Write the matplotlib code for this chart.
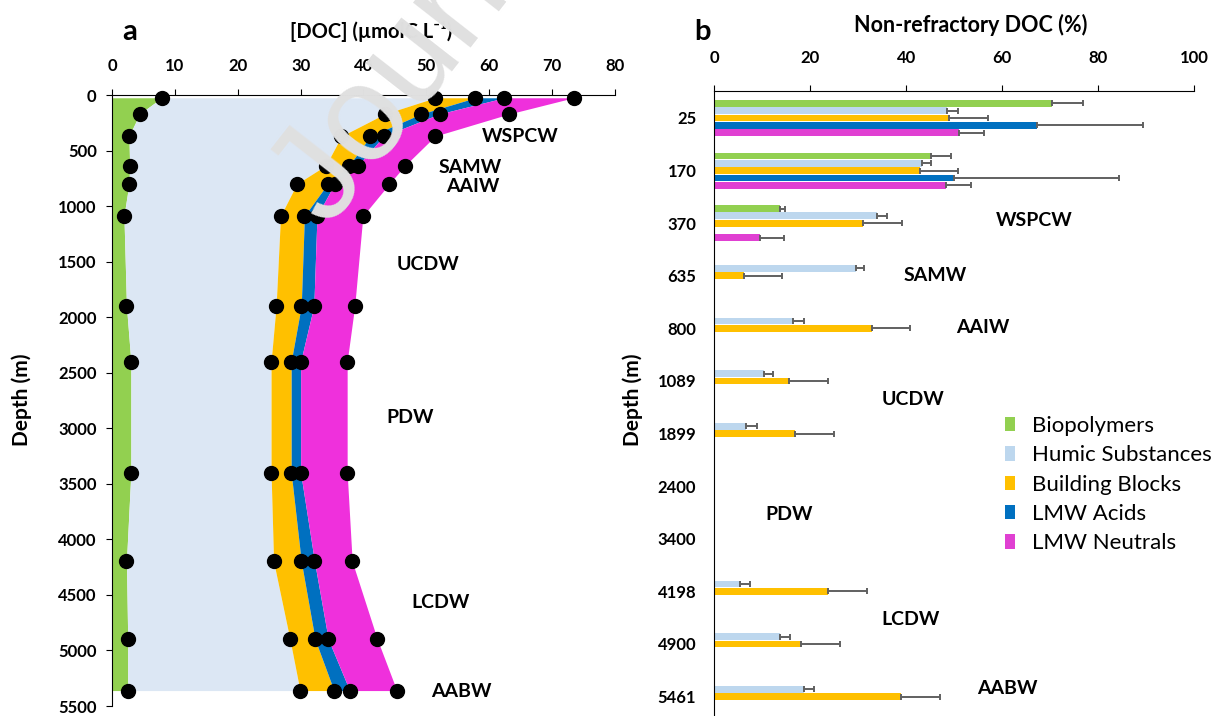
import numpy as np
import matplotlib
matplotlib.use("Agg")
import matplotlib.pyplot as plt
from matplotlib.patches import Patch

plt.rcParams['font.family'] = ['Lato', 'DejaVu Sans']

# ---- panel a data: DOC fractions (umolC/L) vs depth ----
depth_a = [25, 170, 370, 635, 800, 1089, 1899, 2400, 3400, 4198, 4900, 5361]
bio_a = [7.9, 4.4, 2.7, 2.8, 2.7, 1.9, 2.3, 3.0, 3.0, 2.3, 2.5, 2.5]
hs_a = [43.5, 39.0, 33.8, 31.2, 26.7, 24.9, 23.8, 22.3, 22.3, 23.4, 25.8, 27.4]
bb_a = [6.4, 5.8, 4.6, 3.7, 4.9, 3.8, 4.0, 3.2, 3.2, 4.4, 4.0, 5.4]
acid_a = [4.6, 2.9, 2.1, 1.4, 1.1, 2.0, 2.0, 1.5, 1.5, 2.1, 2.1, 2.5]
neu_a = [11.0, 11.1, 8.2, 7.5, 8.7, 7.3, 6.5, 7.4, 7.4, 6.0, 7.8, 7.5]

# ---- panel b data: non-refractory DOC (%) ----
depth_b = ['25', '170', '370', '635', '800', '1089', '1899', '2400', '3400', '4198', '4900', '5461']
nan = np.nan
bio_b = [70.5, 45.2, 13.6, nan, nan, nan, nan, nan, nan, nan, nan, nan]
bio_err = [6.4, 4.2, 1.2, nan, nan, nan, nan, nan, nan, nan, nan, nan]
hs_b = [48.6, 43.2, 33.9, 29.5, 16.5, 10.4, 6.7, nan, nan, 5.4, 13.8, 18.8]
hs_err = [2.1, 2.0, 2.1, 1.8, 2.1, 1.9, 2.1, nan, nan, 2.0, 2.0, 2.0]
bb_b = [49.0, 42.8, 30.9, 6.2, 32.8, 15.6, 16.8, nan, nan, 23.6, 18.0, 39.0]
bb_err = [8.0, 8.1, 8.2, 7.9, 8.1, 8.0, 8.1, nan, nan, 8.2, 8.2, 8.1]
acid_b = [67.3, 50.0, nan, nan, nan, nan, nan, nan, nan, nan, nan, nan]
acid_err = [22.1, 34.3, nan, nan, nan, nan, nan, nan, nan, nan, nan, nan]
neu_b = [51.1, 48.3, 9.5, nan, nan, nan, nan, nan, nan, nan, nan, nan]
neu_err = [5.1, 5.2, 5.0, nan, nan, nan, nan, nan, nan, nan, nan, nan]

names = ['Biopolymers', 'Humic Substances', 'Building Blocks', 'LMW Acids', 'LMW Neutrals']
fill_cols = ['#92D050', '#DCE7F4', '#FFC000', '#0070C0', '#EF30DC']
bar_cols = ['#92D050', '#BDD7EE', '#FFC000', '#0070C0', '#E040D2']

# water mass labels
masses = ['WSPCW', 'SAMW', 'AAIW', 'UCDW', 'PDW', 'LCDW', 'AABW']
mass_pos_a = [(65.0, 370), (57.0, 655), (57.4, 825), (50.2, 1530), (47.4, 2905), (52.2, 4565), (55.6, 5365)]
mass_pos_b = [(66.6, 1.94), (46.0, 3.0), (56.0, 3.99), (41.4, 5.36), (15.5, 7.53), (41.0, 9.54), (61.0, 10.84)]

W, H = 1211, 716
fig = plt.figure(figsize=(W / 100, H / 100), dpi=100)

# ---------------- panel a ----------------
ax1 = fig.add_axes([112 / W, 1 - 706 / H, (615 - 112) / W, (706 - 95) / H])
comps = np.array([bio_a, hs_a, bb_a, acid_a, neu_a])
cum = np.vstack([np.zeros(len(depth_a)), np.cumsum(comps, axis=0)])
for k in range(5):
    ax1.fill_betweenx(depth_a, cum[k], cum[k + 1], color=fill_cols[k], lw=0)
for k in range(1, 6):
    ax1.plot(cum[k], depth_a, 'o', color='black', ms=10, clip_on=False, zorder=5)

ax1.set_xlim(0, 80)
ax1.set_ylim(5500, 0)
ax1.set_xticks(range(0, 81, 10))
ax1.set_yticks(range(0, 5501, 500))
ax1.xaxis.tick_top()
ax1.spines['right'].set_visible(False)
ax1.spines['bottom'].set_visible(False)
ax1.tick_params(axis='x', length=4, pad=11, labelsize=12)
ax1.tick_params(axis='y', length=4, pad=7, labelsize=12)
for lb in ax1.get_xticklabels() + ax1.get_yticklabels():
    lb.set_fontweight('bold')
for m, (x, y) in zip(masses, mass_pos_a):
    ax1.text(x, y, m, ha='center', va='center', fontsize=14, fontweight='bold')

fig.text(22 / W, 1 - 400 / H, 'Depth (m)', rotation=90, ha='center', va='center',
         fontsize=15, fontweight='bold')
fig.text(371 / W, 1 - 32 / H, '[DOC] (µmolC L⁻¹)', ha='center', va='center',
         fontsize=14.5, fontweight='bold')
fig.text(130 / W, 1 - 32 / H, 'a', ha='center', va='center', fontsize=21, fontweight='bold')

# ---------------- panel b ----------------
ax2 = fig.add_axes([714.3 / W, 0, (1194 - 714.3) / W, 1 - 91 / H])
vals = [bio_b, hs_b, bb_b, acid_b, neu_b]
errs = [bio_err, hs_err, bb_err, acid_err, neu_err]
yy = np.arange(len(depth_b))
step = 0.139
for j in range(5):
    v = np.array(vals[j])
    e = np.array(errs[j])
    ok = ~np.isnan(v)
    ax2.barh(yy[ok] + (j - 2) * step, v[ok], height=0.128, color=bar_cols[j],
             xerr=[np.zeros(ok.sum()), e[ok]],
             error_kw=dict(ecolor='#606060', elinewidth=1.4, capsize=2.5, capthick=1.4))

ax2.set_xlim(0, 100)
ax2.set_ylim(11.37, -0.513)
ax2.set_xticks(range(0, 101, 20))
ax2.set_yticks(yy)
ax2.set_yticklabels(depth_b)
ax2.xaxis.tick_top()
ax2.spines['right'].set_visible(False)
ax2.spines['bottom'].set_visible(False)
ax2.tick_params(axis='x', length=4, pad=14, labelsize=12)
ax2.tick_params(axis='y', length=0, pad=13, labelsize=12)
for lb in ax2.get_xticklabels() + ax2.get_yticklabels():
    lb.set_fontweight('bold')
for m, (x, y) in zip(masses, mass_pos_b):
    ax2.text(x, y, m, ha='center', va='center', fontsize=14, fontweight='bold')

fig.text(633 / W, 1 - 400 / H, 'Depth (m)', rotation=90, ha='center', va='center',
         fontsize=15, fontweight='bold')

handles = [Patch(facecolor=c, edgecolor='none') for c in bar_cols]
fig.legend(handles, names, loc='upper left', bbox_to_anchor=(1005 / W, 1 - 416 / H),
           frameon=False, fontsize=16, handlelength=0.45, handleheight=0.6,
           handletextpad=0.75, labelspacing=0.42, borderaxespad=0, borderpad=0)

fig.text(971 / W, 1 - 25 / H, 'Non-refractory DOC (%)', ha='center', va='center',
         fontsize=15.5, fontweight='bold')
fig.text(703 / W, 1 - 32 / H, 'b', ha='center', va='center', fontsize=21, fontweight='bold')

# journal watermark
fig.text(329 / W, 1 - 229 / H, 'Journal Pre-proof', rotation=52, rotation_mode='anchor',
         ha='left', va='baseline', fontsize=99, family='Liberation Sans', color='#E0E0E0',
         zorder=10)

fig.savefig('out.png', dpi=100)
